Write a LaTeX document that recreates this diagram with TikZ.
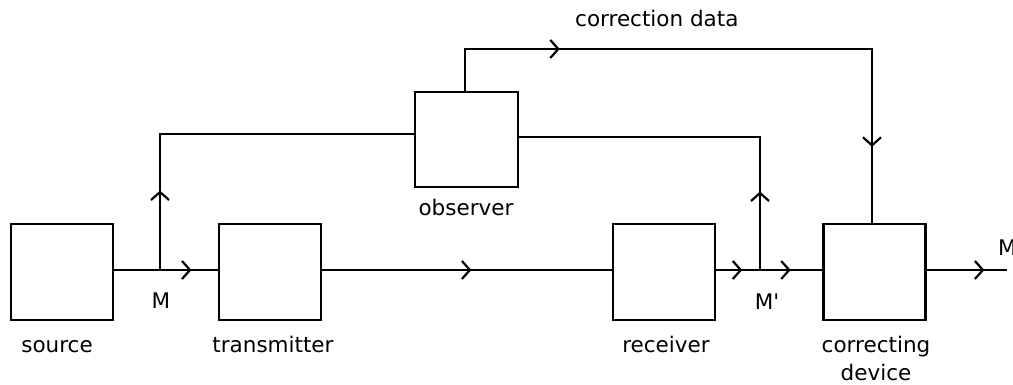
\documentclass[tikz,border=0pt]{standalone}
\usepackage{fontspec}
\setmainfont{DejaVu Sans}[Ligatures=TeXOff]
\usetikzlibrary{decorations.markings}
\tikzset{
  blk/.style={draw, line width=2.6pt, minimum width=102pt, minimum height=96pt, inner sep=0pt, fill=white},
  wire/.style={line width=2.6pt},
  lbl/.style={anchor=base, inner sep=0pt, font=\fontsize{21.5}{26}\selectfont},
  chev/.style={postaction={decorate, decoration={markings,
     mark=at position #1 with {\draw[line width=2.2pt] (-8pt,-9pt) -- (0pt,0pt) -- (-8pt,9pt);}}}}
}
\begin{document}
\begin{tikzpicture}[x=1pt,y=-1pt]
\useasboundingbox (0,0) rectangle (1013,385);
% blocks
\node[blk] (src)  at (62,272) {};
\node[blk] (tx)   at (270,272) {};
\node[blk] (rx)   at (664,272) {};
\node[blk] (corr) at (874.5,272) {};
\node[blk, minimum width=103pt, minimum height=95pt] (obs) at (466.5,139.5) {};
% junctions and corners
\coordinate (jM)  at (160,270);
\coordinate (jMp) at (760,270);
\coordinate (lc)  at (160,134);
\coordinate (rc)  at (760,137);
\coordinate (t1)  at (465,49);
\coordinate (t2)  at (872,49);
\coordinate (out) at (1007,270);
% main line
\draw[wire] (src.east |- jM) -- (jM);
\draw[wire, chev=0.52] (jM) -- (tx.west |- jM);
\draw[wire, chev=0.51] (tx.east |- jM) -- (rx.west |- jM);
\draw[wire, chev=0.56] (rx.east |- jM) -- (jMp);
\draw[wire, chev=0.47] (jMp) -- (corr.west |- jM);
\draw[wire, chev=0.70] (corr.east |- jM) -- (out);
% observer taps
\draw[wire, chev=78pt] (jM) -- (lc) -- (lc -| obs.west);
\draw[wire, chev=77pt] (jMp) -- (rc) -- (rc -| obs.east);
% correction data
\draw[wire, chev=135pt, chev=545pt] (obs.north -| t1) -- (t1) -- (t2) -- (corr.north -| t2);
% labels
\node[lbl] (lsrc)  at (57,352) {source};
\node[lbl] (ltx)   at (273,352) {transmitter};
\node[lbl] (lrx)   at (666,352) {receiver};
\node[lbl] (lcor)  at (876,352) {correcting};
\node[lbl] (ldev)  at (876,380) {device};
\node[lbl] (lobs)  at (466,215) {observer};
\node[lbl] (lM)    at (161,308) {M};
\node[lbl] (lMp)   at (767,309) {M'};
\node[lbl, anchor=base west] (lcd) at (575,27) {correction data};
\node[lbl, anchor=base west] (lMo) at (998,255) {M};
\end{tikzpicture}
\end{document}
